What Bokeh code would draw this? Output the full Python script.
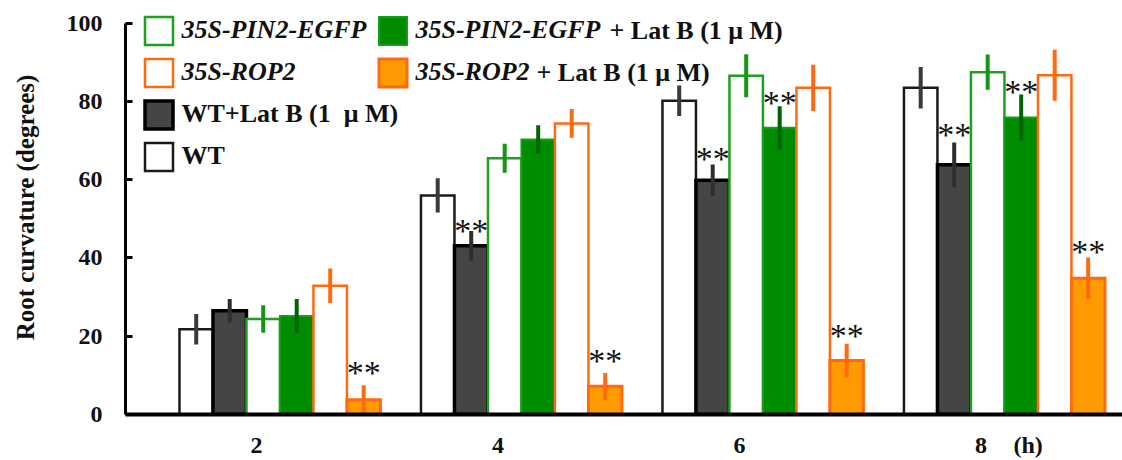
from bokeh.plotting import figure
from bokeh.models import Legend, LegendItem, Label, FixedTicker, ColumnDataSource, Range1d
from bokeh.embed import file_html
from bokeh.resources import INLINE
from bokeh.core.properties import value

# ---------------- data ----------------
hours = [2, 4, 6, 8]
tick_values_y = [0, 20, 40, 60, 80, 100]
unit_label = "(h)"
unit_label_pos = 8.39

wt = [21.8, 56.0, 80.2, 83.5]
wt_err = [3.9, 4.4, 3.9, 5.3]
wt_latb = [26.5, 43.1, 59.9, 63.8]
wt_latb_err = [3.0, 3.8, 4.0, 5.7]
pin2 = [24.4, 65.5, 86.6, 87.5]
pin2_err = [3.5, 3.7, 5.5, 4.5]
pin2_latb = [25.2, 70.3, 73.3, 75.9]
pin2_latb_err = [4.3, 3.6, 5.5, 5.9]
rop2 = [32.9, 74.4, 83.5, 86.7]
rop2_err = [4.4, 3.7, 5.9, 6.5]
rop2_latb = [3.8, 7.2, 13.8, 34.8]
rop2_latb_err = [3.7, 3.4, 4.3, 5.3]

# significance marks (**): series index, hour, height of the mark
sig_series = [5, 1, 5, 1, 3, 5, 1, 3, 5]
sig_hours = [2, 4, 4, 6, 6, 6, 8, 8, 8]
sig_y = [12.4, 48.8, 15.7, 67.3, 81.5, 21.9, 73.4, 84.3, 43.5]

FONT = "Liberation Serif"

# ---------------- styles ----------------
styles = [
    dict(fill="#ffffff", line="#1a1a1a", lw=2.5, err="#3a3a3a"),   # WT
    dict(fill="#454545", line="#000000", lw=3.5, err="#2e2e2e"),   # WT + Lat B
    dict(fill="#ffffff", line="#1fa01f", lw=2.5, err="#159515"),   # 35S-PIN2-EGFP
    dict(fill="#008c00", line="#14a014", lw=2.0, err="#006400"),   # 35S-PIN2-EGFP + Lat B
    dict(fill="#ffffff", line="#ff6a10", lw=2.5, err="#ff6a10"),   # 35S-ROP2
    dict(fill="#ff9b00", line="#ff6a10", lw=3.0, err="#ff6a10"),   # 35S-ROP2 + Lat B
]
series = [
    (wt, wt_err), (wt_latb, wt_latb_err), (pin2, pin2_err),
    (pin2_latb, pin2_latb_err), (rop2, rop2_err), (rop2_latb, rop2_latb_err),
]

p = figure(width=1122, height=460, output_backend="svg", toolbar_location=None,
           x_range=Range1d(0.915, 9.172), y_range=Range1d(0, 105.81),
           min_border_left=125, min_border_right=0, min_border_top=0, min_border_bottom=41)
p.outline_line_color = None
p.xgrid.visible = False
p.ygrid.visible = False
p.background_fill_color = "white"

group_offset = -0.638
bar_w = 0.2774

renderers = []
sources = []
for i, ((vals, errs), st) in enumerate(zip(series, styles)):
    xs = [h + group_offset + (i + 0.5) * bar_w for h in hours]
    src = ColumnDataSource(dict(x=xs, top=vals,
                                lo=[v - e for v, e in zip(vals, errs)],
                                hi=[v + e for v, e in zip(vals, errs)]))
    r = p.vbar(x="x", top="top", bottom=0, width=bar_w, source=src,
               fill_color=st["fill"], line_color=st["line"], line_width=st["lw"],
               line_join="miter")
    renderers.append(r)
    sources.append(src)

for src, st in zip(sources, styles):
    p.segment(x0="x", y0="lo", x1="x", y1="hi", source=src,
              line_color=st["err"], line_width=4)

# ** marks
star_x = [h + group_offset + (s + 0.5) * bar_w for s, h in zip(sig_series, sig_hours)]
star_src = ColumnDataSource(dict(x=star_x, y=sig_y, t=["**"] * len(sig_y)))
p.text(x="x", y="y", text="t", source=star_src, text_align="center", text_baseline="middle",
       text_font=value(FONT), text_font_size="34px", text_color="#111111", y_offset=7)

# ---------------- axes ----------------
p.xaxis.ticker = FixedTicker(ticks=hours + [unit_label_pos])
p.xaxis.major_label_overrides = {unit_label_pos: unit_label}
p.xaxis.major_tick_line_color = None
p.xaxis.minor_tick_line_color = None
p.xaxis.axis_line_width = 4
p.xaxis.axis_line_color = "#000000"
p.xaxis.major_label_standoff = 11
p.xaxis.major_label_text_font = FONT
p.xaxis.major_label_text_font_style = "bold"
p.xaxis.major_label_text_font_size = "24px"
p.xaxis.major_label_text_color = "#111111"

p.yaxis.ticker = FixedTicker(ticks=tick_values_y)
p.yaxis.bounds = (0, 100)
p.yaxis.major_tick_in = 7
p.yaxis.major_tick_out = 0
p.yaxis.major_tick_line_width = 3
p.yaxis.minor_tick_line_color = None
p.yaxis.axis_line_width = 3
p.yaxis.axis_line_color = "#000000"
p.yaxis.major_label_standoff = 23
p.yaxis.major_label_text_font = FONT
p.yaxis.major_label_text_font_style = "bold"
p.yaxis.major_label_text_font_size = "24px"
p.yaxis.major_label_text_color = "#111111"
p.yaxis.axis_label = "Root curvature (degrees)"
p.yaxis.axis_label_text_font = FONT
p.yaxis.axis_label_text_font_style = "bold"
p.yaxis.axis_label_text_font_size = "25px"
p.yaxis.axis_label_text_color = "#111111"
p.yaxis.axis_label_standoff = 25

# ---------------- legends ----------------
def make_legend(items, loc, style):
    return Legend(items=items, location=loc, orientation="vertical",
                  glyph_width=35, glyph_height=35, label_standoff=6, spacing=7,
                  padding=0, margin=0, border_line_color=None, background_fill_alpha=0,
                  label_text_font=FONT, label_text_font_style=style,
                  label_text_font_size="26px", label_text_color="#111111")

leg1 = make_legend([LegendItem(label="35S-PIN2-EGFP", renderers=[renderers[2]]),
                    LegendItem(label="35S-ROP2", renderers=[renderers[4]])],
                   (15.5, 324.5), "bold italic")
leg2 = make_legend([LegendItem(label="WT+Lat B (1  \u03bc M)", renderers=[renderers[1]]),
                    LegendItem(label="WT", renderers=[renderers[0]])],
                   (15.5, 240.5), "bold")
leg3 = make_legend([LegendItem(label="35S-PIN2-EGFP", renderers=[renderers[3]]),
                    LegendItem(label="35S-ROP2", renderers=[renderers[5]])],
                   (249.5, 324.5), "bold italic")
for lg in (leg1, leg2, leg3):
    p.add_layout(lg)

for sx, sy in ((484, 384), (411, 342)):
    p.add_layout(Label(x=sx, y=sy, x_units="screen", y_units="screen",
                       text="+ Lat B (1  \u03bc M)", text_font=FONT, text_font_style="bold",
                       text_font_size="26px", text_baseline="middle", text_color="#111111"))

open("out.html", "w").write(file_html(p, INLINE))
